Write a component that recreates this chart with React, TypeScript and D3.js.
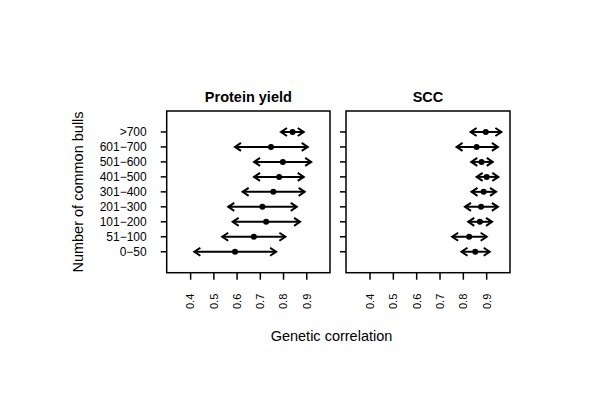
import React from "react";
import * as d3 from "d3";

const categories = ["0\u221250", "51\u2212100", "101\u2212200", "201\u2212300", "301\u2212400", "401\u2212500", "501\u2212600", "601\u2212700", ">700"];
const proteinEst = [0.591, 0.672, 0.725, 0.709, 0.756, 0.781, 0.797, 0.746, 0.839];
const proteinLow = [0.416, 0.536, 0.581, 0.562, 0.624, 0.673, 0.673, 0.591, 0.789];
const proteinHigh = [0.768, 0.808, 0.871, 0.857, 0.891, 0.887, 0.919, 0.904, 0.887];
const sccEst = [0.851, 0.825, 0.871, 0.876, 0.887, 0.9, 0.878, 0.857, 0.896];
const sccLow = [0.792, 0.752, 0.821, 0.807, 0.835, 0.857, 0.834, 0.771, 0.831];
const sccHigh = [0.913, 0.9, 0.923, 0.948, 0.94, 0.95, 0.926, 0.948, 0.963];
const xTicks = [0.4, 0.5, 0.6, 0.7, 0.8, 0.9];
const panelTitles = ["Protein yield", "SCC"];

const FONT = "'Liberation Sans', Arial, sans-serif";

function Panel({ x0, x1, title, est, low, high, showLabels }: any) {
  const top = 111, bottom = 272.7;
  const x = d3.scaleLinear().domain([0.297, 1.0]).range([x0, x1]);
  const y = d3.scaleLinear().domain([-0.4, 10.4]).range([bottom, top]);
  const ah = 6, aw = 4;
  return (
    <g>
      <rect x={x0} y={top} width={x1 - x0} height={bottom - top} fill="none" stroke="#000" strokeWidth={1.5} />
      <text x={(x0 + x1) / 2} y={102} textAnchor="middle" fontFamily={FONT} fontWeight="bold" fontSize={14.5}>{title}</text>
      {categories.map((c, i) => (
        <g key={c}>
          <line x1={x0 - 6} x2={x0} y1={y(i + 1)} y2={y(i + 1)} stroke="#000" strokeWidth={1.5} />
          {showLabels && (
            <text x={x0 - 20} y={y(i + 1)} dy="0.35em" textAnchor="end" fontFamily={FONT} fontSize={12}>{c}</text>
          )}
        </g>
      ))}
      {xTicks.map((t) => (
        <g key={t}>
          <line x1={x(t)} x2={x(t)} y1={bottom} y2={bottom + 7} stroke="#000" strokeWidth={1.5} />
          <text transform={`translate(${x(t)},${bottom + 21}) rotate(-90)`} dy="0.35em" textAnchor="end" fontFamily={FONT} fontSize={11}>{String(t)}</text>
        </g>
      ))}
      {est.map((e: number, i: number) => {
        const yy = y(i + 1);
        const xl = x(low[i]), xr = x(high[i]);
        return (
          <g key={i} stroke="#000" strokeWidth={2} fill="none">
            <line x1={xl} x2={xr} y1={yy} y2={yy} />
            <path d={`M${xl + ah},${yy - aw}L${xl},${yy}L${xl + ah},${yy + aw}`} />
            <path d={`M${xr - ah},${yy - aw}L${xr},${yy}L${xr - ah},${yy + aw}`} />
            <circle cx={x(e)} cy={yy} r={3} fill="#000" stroke="none" />
          </g>
        );
      })}
    </g>
  );
}

export default function App() {
  return (
    <svg width={600} height={402} style={{ position: "absolute", left: 0, top: 0, background: "#fff" }}>
      <rect width={600} height={402} fill="#fff" />
      <Panel x0={166.7} x1={330} title={panelTitles[0]} est={proteinEst} low={proteinLow} high={proteinHigh} showLabels={true} />
      <Panel x0={346} x1={510} title={panelTitles[1]} est={sccEst} low={sccLow} high={sccHigh} showLabels={false} />
      <text x={331.5} y={336} dy="0.35em" textAnchor="middle" fontFamily={FONT} fontSize={14.5}>Genetic correlation</text>
      <text transform="translate(78,192) rotate(-90)" dy="0.35em" textAnchor="middle" fontFamily={FONT} fontSize={14.5}>Number of common bulls</text>
    </svg>
  );
}
